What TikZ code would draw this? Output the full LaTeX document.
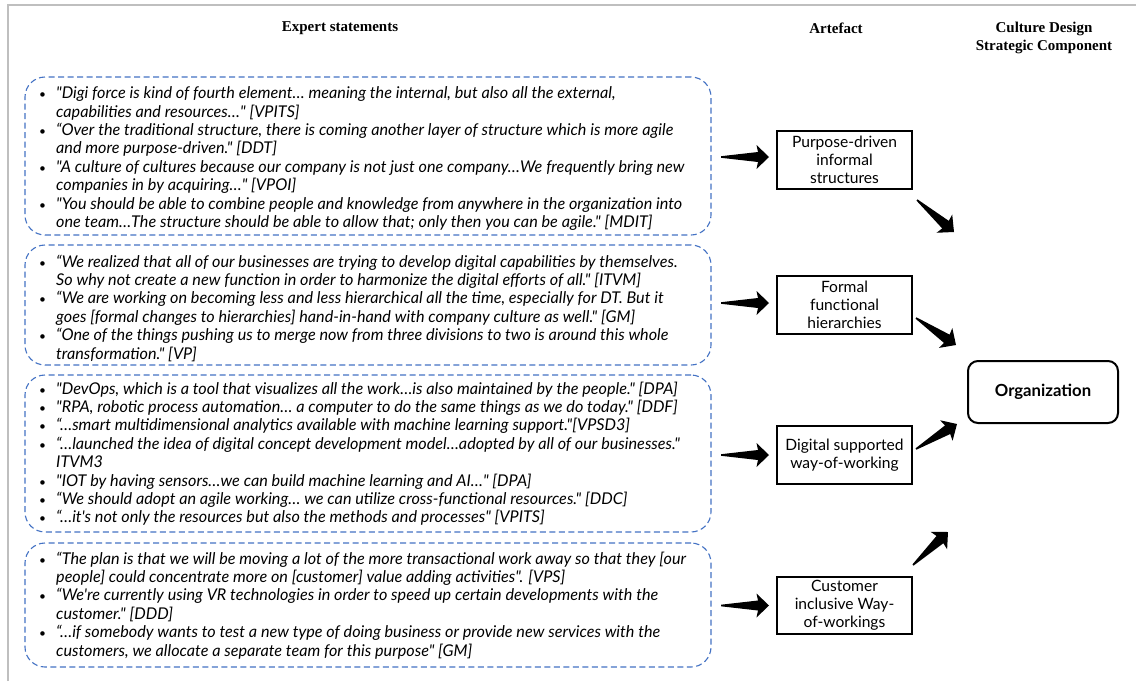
\documentclass[tikz,border=0pt]{standalone}
\usepackage{fontspec}
\usetikzlibrary{calc}
\setmainfont{Liberation Serif}
\newfontfamily\qsans{Lato}
\definecolor{qblue}{RGB}{68,114,196}
\newcommand\quotefont{\qsans\itshape\fontsize{16.2}{18.4}\selectfont}
\newcommand\artfont{\qsans\fontsize{15.6}{18}\selectfont}
\newcommand\orgfont{\qsans\bfseries\fontsize{16.7}{18}\selectfont}
\newcommand\hdrfont{\rmfamily\bfseries\fontsize{15}{18}\selectfont}
\newcommand\bul{\makebox[15pt][l]{\hspace*{-2pt}\fontsize{12}{12}\selectfont•}}
\newcommand\ind{\hspace*{15pt}}
\newcommand\tarrow[2]{%
  \fill ($(#1)!0.8pt!90:(#2)$) -- ($(#1)!0.77!(#2)!5pt!90:(#2)$) -- ($(#1)!0.74!(#2)!12pt!90:(#2)$) -- (#2)
   -- ($(#1)!0.74!(#2)!12pt!-90:(#2)$) -- ($(#1)!0.77!(#2)!5pt!-90:(#2)$) -- ($(#1)!0.8pt!-90:(#2)$) -- cycle;}
\tikzset{
  qbox/.style={draw=qblue, dash pattern=on 6pt off 3.5pt, line width=1.1pt, rounded corners=20pt, minimum width=686pt, inner sep=0pt},
  qtext/.style={anchor=north west, inner sep=0pt, align=left, font=\quotefont},
  abox/.style={draw, line width=2pt, minimum width=135pt, minimum height=58pt, align=center, font=\artfont, inner sep=2pt},
  obox/.style={draw, line width=2pt, rounded corners=10pt, minimum width=150pt, minimum height=62pt, font=\orgfont},
  hdr/.style={font=\hdrfont, align=center, inner sep=0pt}
}
\begin{document}
\begin{tikzpicture}[x=1pt,y=-1pt]
\useasboundingbox[fill=white] (0,0) rectangle (1136,681);
\draw[black!25, line width=1.5pt] (8,681) -- (8,5) -- (1136,5);
% headers
\node[hdr] (h1) at (340,28) {Expert statements};
\node[hdr] (h2) at (836,28) {Artefact};
\node[hdr] (h3) at (1044,38) {Culture Design\\Strategic Component};
% quote boxes
\node[qbox, minimum height=158pt] (q1) at (368,156) {};
\node[qbox, minimum height=120pt] (q2) at (368,305) {};
\node[qbox, minimum height=157pt] (q3) at (368,453.5) {};
\node[qbox, minimum height=124pt] (q4) at (368,605) {};
\node[qtext] (t1) at (41,86.5) {%
\bul"Digi force is kind of fourth element… meaning the internal, but also all the external,\\
\ind capabilities and resources…" [VPITS]\\
\bul“Over the traditional structure, there is coming another layer of structure which is more agile\\
\ind and more purpose-driven." [DDT]\\
\bul"A culture of cultures because our company is not just one company…We frequently bring new\\
\ind companies in by acquiring…" [VPOI]\\
\bul"You should be able to combine people and knowledge from anywhere in the organization into\\
\ind one team…The structure should be able to allow that; only then you can be agile." [MDIT]};
\node[qtext] (t2) at (41,254.5) {%
\bul“We realized that all of our businesses are trying to develop digital capabilities by themselves.\\
\ind So why not create a new function in order to harmonize the digital efforts of all." [ITVM]\\
\bul“We are working on becoming less and less hierarchical all the time, especially for DT. But it\\
\ind goes [formal changes to hierarchies] hand-in-hand with company culture as well." [GM]\\
\bul“One of the things pushing us to merge now from three divisions to two is around this whole\\
\ind transformation." [VP]};
\node[qtext] (t3) at (41,381.5) {%
\bul"DevOps, which is a tool that visualizes all the work…is also maintained by the people." [DPA]\\
\bul"RPA, robotic process automation… a computer to do the same things as we do today." [DDF]\\
\bul“…smart multidimensional analytics available with machine learning support."[VPSD3]\\
\bul“…launched the idea of digital concept development model…adopted by all of our businesses."\\
\ind ITVM3\\
\bul"IOT by having sensors…we can build machine learning and AI…" [DPA]\\
\bul“We should adopt an agile working… we can utilize cross-functional resources." [DDC]\\
\bul“…it's not only the resources but also the methods and processes" [VPITS]};
\node[qtext] (t4) at (41,551.5) {%
\bul“The plan is that we will be moving a lot of the more transactional work away so that they [our\\
\ind people] could concentrate more on [customer] value adding activities". [VPS]\\
\bul“We're currently using VR technologies in order to speed up certain developments with the\\
\ind customer." [DDD]\\
\bul“…if somebody wants to test a new type of doing business or provide new services with the\\
\ind customers, we allocate a separate team for this purpose" [GM]};
% artefacts
\node[abox] (a1) at (844.5,160) {Purpose-driven\\informal\\structures};
\node[abox] (a2) at (844.5,305) {Formal\\functional\\hierarchies};
\node[abox] (a3) at (844.5,455) {Digital supported\\way-of-working};
\node[abox, minimum height=57pt] (a4) at (844.5,605.5) {Customer\\inclusive Way-\\of-workings};
\node[obox] (org) at (1043,392) {Organization};
% left arrows
\foreach \a/\dy in {a1/-3,a2/-2,a3/0,a4/0}{
  \coordinate (\a s) at ($(\a.west)+(-55,\dy)$);
  \coordinate (\a e) at ($(\a.west)+(-7,\dy)$);
  \tarrow{\a s}{\a e}
}
% diagonal arrows
\coordinate (d1s) at (917,200); \coordinate (d1e) at (954,232);
\coordinate (d2s) at (916,318); \coordinate (d2e) at (956,345);
\coordinate (d3s) at (916,449); \coordinate (d3e) at (957,424);
\coordinate (d4s) at (913,565); \coordinate (d4e) at (948,532);
\tarrow{d1s}{d1e}
\tarrow{d2s}{d2e}
\tarrow{d3s}{d3e}
\tarrow{d4s}{d4e}
\end{tikzpicture}
\end{document}
